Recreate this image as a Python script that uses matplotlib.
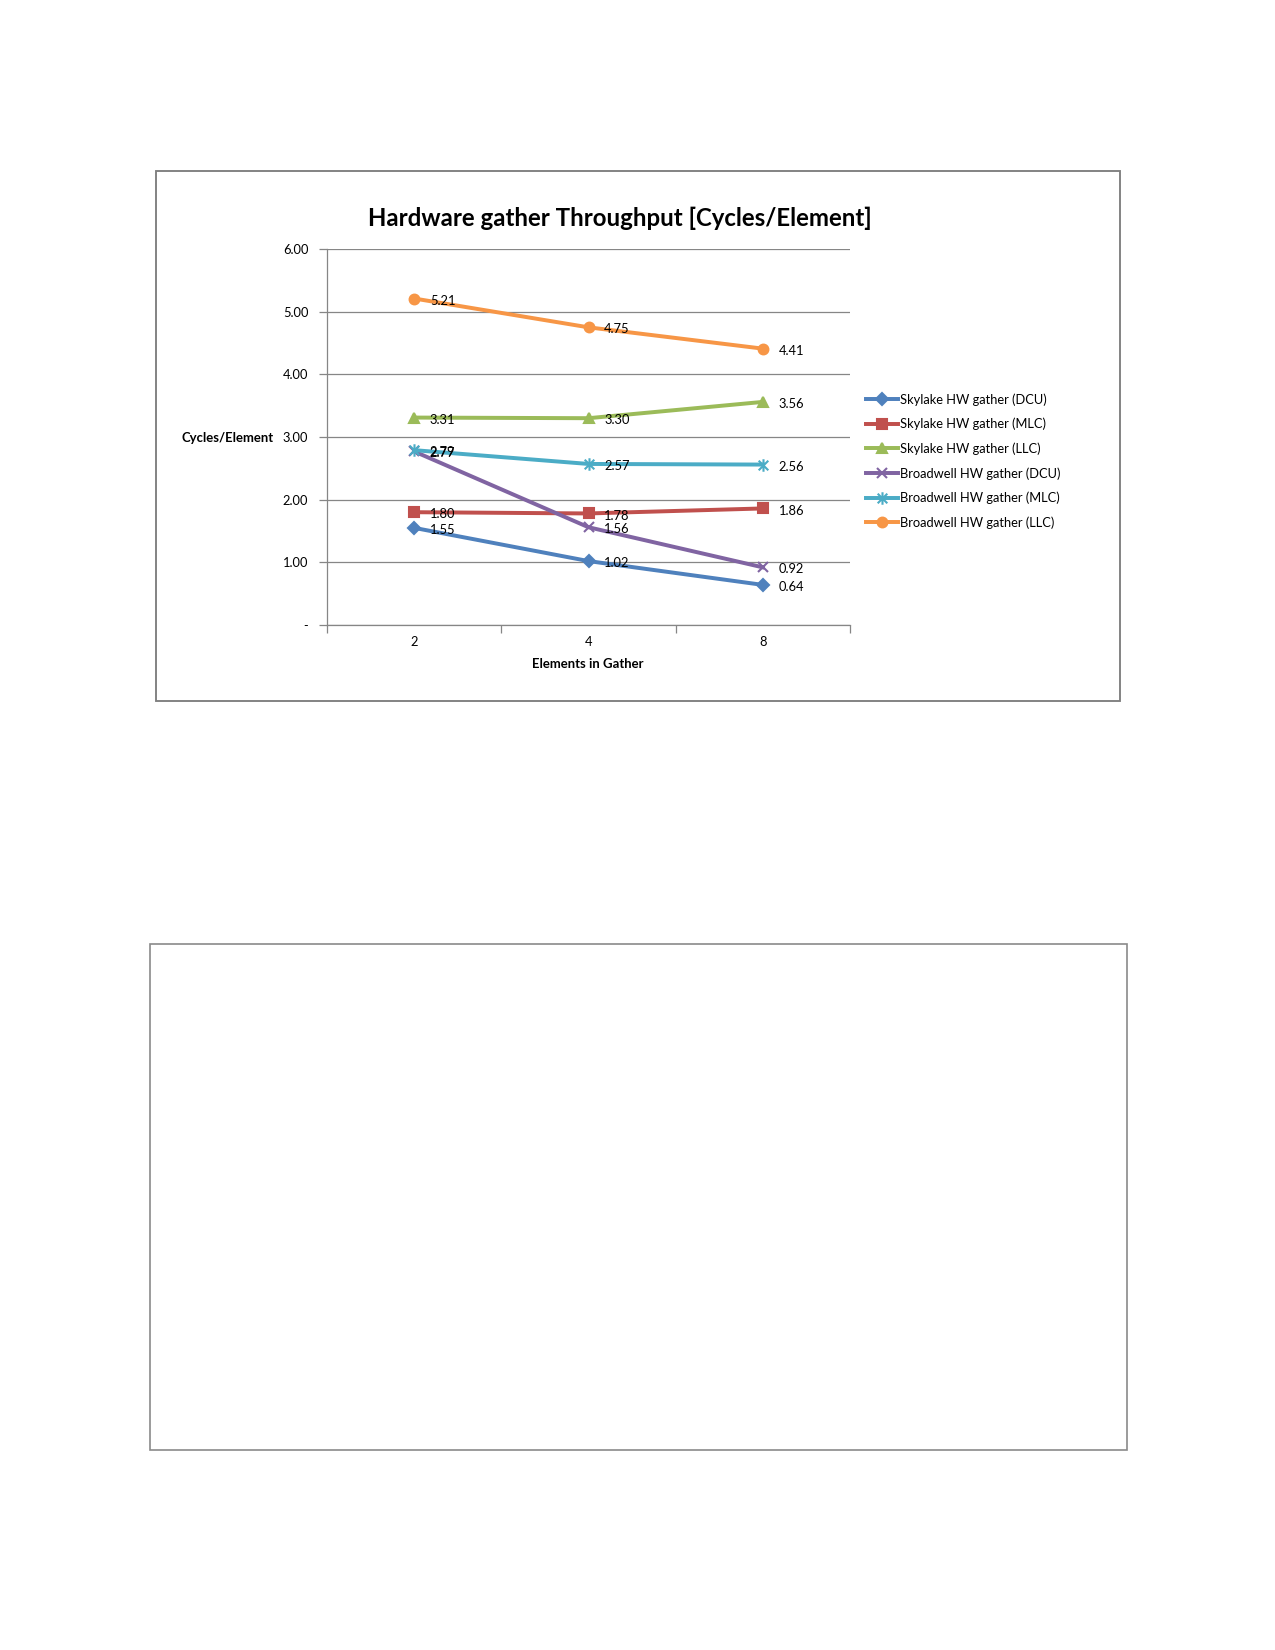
import matplotlib.pyplot as plt
from matplotlib.patches import Rectangle
from matplotlib.path import Path
import numpy as np

plt.rcParams['font.family'] = ['Lato', 'DejaVu Sans']

#%%
# values
categories = ['2', '4', '8']
skylake_dcu = [1.55, 1.02, 0.64]
skylake_mlc = [1.80, 1.78, 1.86]
skylake_llc = [3.31, 3.30, 3.56]
broadwell_dcu = [2.77, 1.56, 0.92]
broadwell_mlc = [2.79, 2.57, 2.56]
broadwell_llc = [5.21, 4.75, 4.41]

series_names = ['Skylake HW gather (DCU)', 'Skylake HW gather (MLC)', 'Skylake HW gather (LLC)',
                'Broadwell HW gather (DCU)', 'Broadwell HW gather (MLC)', 'Broadwell HW gather (LLC)']
y_ticks = [0, 1, 2, 3, 4, 5, 6]
y_tick_labels = ['-', '1.00', '2.00', '3.00', '4.00', '5.00', '6.00']

#%%
colors = ['#4F81BD', '#C0504D', '#9BBB59', '#8064A2', '#4BACC6', '#F79646']
# excel style star: x with a vertical bar
star = Path([(-1, -1), (1, 1), (-1, 1), (1, -1), (0, -1.3), (0, 1.3)],
            [Path.MOVETO, Path.LINETO, Path.MOVETO, Path.LINETO, Path.MOVETO, Path.LINETO])
markers = ['D', 's', '^', 'x', star, 'o']
msizes = [4.0, 4.8, 5.0, 5, 6, 4.7]

W, H = 1275, 1650
fig = plt.figure(figsize=(8.5, 11), dpi=150)

def fx(px):
    return px / W

def fy(px):
    return 1 - px / H

# outer chart frame and the empty frame below it
fig.patches.append(Rectangle((fx(156), fy(701)), fx(1120) - fx(156), fy(171) - fy(701),
                             transform=fig.transFigure, fill=False, ec='#7f7f7f', lw=0.9))
fig.patches.append(Rectangle((fx(150), fy(1450)), fx(1127) - fx(150), fy(944) - fy(1450),
                             transform=fig.transFigure, fill=False, ec='#8a8a8a', lw=0.8))

ax = fig.add_axes([fx(327), fy(625), fx(850) - fx(327), fy(249) - fy(625)])

data = [skylake_dcu, skylake_mlc, skylake_llc, broadwell_dcu, broadwell_mlc, broadwell_llc]
x = np.arange(len(categories))
for vals, name, c, m, ms in zip(data, series_names, colors, markers, msizes):
    ax.plot(x, vals, color=c, lw=1.9, marker=m, markersize=ms, label=name,
            markeredgecolor=c, markerfacecolor=c, markeredgewidth=1.0, clip_on=False)
    for xi, v in zip(x, vals):
        ax.annotate('%.2f' % v, (xi, v), xytext=(7.5, -1), textcoords='offset points',
                    ha='left', va='center', fontsize=6.2)

ax.set_xlim(-0.5, 2.5)
ax.set_ylim(0, 6)
ax.set_xticks(x)
ax.set_xticklabels(categories)
ax.set_xticks([-0.5, 0.5, 1.5, 2.5], minor=True)
ax.tick_params(axis='x', which='major', length=0, pad=5.5, labelsize=6.2)
ax.tick_params(axis='x', which='minor', length=4, width=0.6, color='#868686', direction='out')
ax.set_yticks(y_ticks)
ax.set_yticklabels(y_tick_labels)
ax.tick_params(axis='y', length=4, width=0.6, color='#868686', direction='out', pad=5, labelsize=6.2)
ax.yaxis.grid(True, color='#868686', lw=0.6)
ax.set_axisbelow(True)
for s in ['top', 'right']:
    ax.spines[s].set_visible(False)
for s in ['left', 'bottom']:
    ax.spines[s].set_color('#868686')
    ax.spines[s].set_linewidth(0.6)

fig.text(fx(620), fy(218), 'Hardware gather Throughput [Cycles/Element]',
         ha='center', va='center', fontsize=11.5, fontweight='bold')
fig.text(fx(228), fy(438), 'Cycles/Element', ha='center', va='center', fontsize=6.3, fontweight='bold')
fig.text(fx(588), fy(664), 'Elements in Gather', ha='center', va='center', fontsize=6.3, fontweight='bold')

fig.legend(loc='upper left', bbox_to_anchor=(fx(866), fy(393)), frameon=False, fontsize=6.2,
           handlelength=2.5, handletextpad=0.1, labelspacing=0.94, borderpad=0, borderaxespad=0)

plt.savefig('out.png', dpi=150)
